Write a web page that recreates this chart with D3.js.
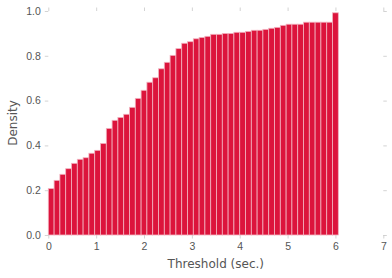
<!DOCTYPE html>
<html>
<head>
<meta charset="utf-8">
<script src="https://cdn.jsdelivr.net/npm/d3@7"></script>
<style>
  body { margin: 0; background: #fff; }
  svg { display: block; font-family: "DejaVu Sans", sans-serif; }
</style>
</head>
<body>
<div id="chart"></div>
<script>
// cumulative density per bin
const densities = [
  0.207, 0.244, 0.271, 0.296, 0.320, 0.338, 0.345, 0.365, 0.378, 0.409,
  0.476, 0.512, 0.525, 0.539, 0.570, 0.610, 0.646, 0.682, 0.702, 0.742,
  0.771, 0.802, 0.832, 0.856, 0.863, 0.876, 0.882, 0.887, 0.896, 0.896,
  0.900, 0.900, 0.905, 0.905, 0.909, 0.914, 0.914, 0.918, 0.923, 0.927,
  0.936, 0.941, 0.941, 0.941, 0.950, 0.950, 0.950, 0.950, 0.950, 0.992
];
const binRange = [0, 6.06];
const xTicks = [0, 1, 2, 3, 4, 5, 6, 7];
const yTicks = [0, 0.2, 0.4, 0.6, 0.8, 1.0];

const width = 392, height = 278;
const margin = { top: 11, right: 8.7, bottom: 43, left: 48.3 };

const svg = d3.select('#chart').append('svg')
  .attr('width', width)
  .attr('height', height);

const x = d3.scaleLinear().domain([0, 7]).range([margin.left, width - margin.right]);
const y = d3.scaleLinear().domain([0, 1]).range([height - margin.bottom, margin.top]);

// bins
const binW = (binRange[1] - binRange[0]) / densities.length;
const bins = densities.map((v, i) => ({ x0: binRange[0] + i * binW, x1: binRange[0] + (i + 1) * binW, v }));

svg.append('g')
  .selectAll('rect')
  .data(bins)
  .enter()
  .append('rect')
  .attr('x', d => x(d.x0))
  .attr('y', d => y(d.v))
  .attr('width', d => x(d.x1) - x(d.x0))
  .attr('height', d => y(0) - y(d.v))
  .attr('fill', '#dc143c')
  .attr('stroke', '#f2b3c0')
  .attr('stroke-width', 0.8);

// axes
const tickLen = 3.5;
function styleAxis(g) {
  g.select('.domain').remove();
  g.selectAll('.tick line').attr('stroke', '#c8c8c8').attr('stroke-width', 0.8);
  g.selectAll('.tick text').attr('fill', '#555').style('font-size', '10.5px');
}

svg.append('g')
  .attr('transform', `translate(0,${y(0)})`)
  .call(d3.axisBottom(x).tickValues(xTicks).tickFormat(d3.format('d')).tickSize(tickLen).tickPadding(4.5))
  .call(styleAxis);

svg.append('g')
  .attr('transform', `translate(0,${y(1)})`)
  .call(d3.axisTop(x).tickValues(xTicks).tickFormat('').tickSize(tickLen))
  .call(styleAxis);

svg.append('g')
  .attr('transform', `translate(${x(0)},0)`)
  .call(d3.axisLeft(y).tickValues(yTicks).tickFormat(d3.format('.1f')).tickSize(tickLen).tickPadding(4))
  .call(styleAxis);

svg.append('g')
  .attr('transform', `translate(${x(7)},0)`)
  .call(d3.axisRight(y).tickValues(yTicks).tickFormat('').tickSize(tickLen))
  .call(styleAxis);

// axis labels
svg.append('text')
  .attr('x', (x(0) + x(7)) / 2)
  .attr('y', 268)
  .attr('text-anchor', 'middle')
  .attr('fill', '#555')
  .style('font-size', '12px')
  .text('Threshold (sec.)');

svg.append('text')
  .attr('transform', 'rotate(-90)')
  .attr('x', -(y(0) + y(1)) / 2)
  .attr('y', 16.5)
  .attr('text-anchor', 'middle')
  .attr('fill', '#555')
  .style('font-size', '12px')
  .text('Density');
</script>
</body>
</html>
